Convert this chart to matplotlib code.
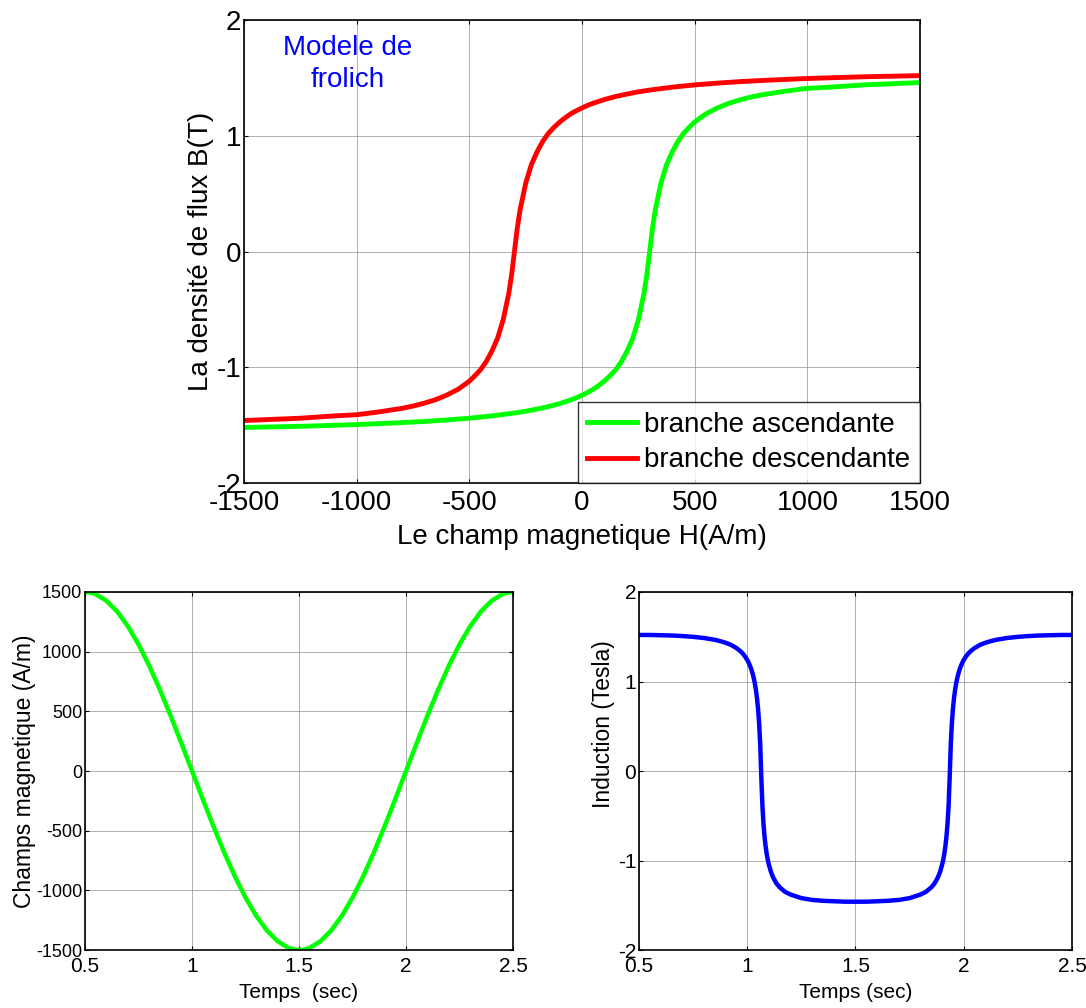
import matplotlib
matplotlib.use("Agg")
import matplotlib.pyplot as plt

# ---------------- données ----------------
# branche descendante (rouge) : H (A/m), B (T)
H_DESC = [-1500, -1375, -1250, -1100, -1000, -900, -800, -750, -700, -650,
          -600, -550, -500, -475, -450, -425, -400, -375, -350, -325,
          -312.5, -300, -287.5, -275, -250, -225, -200, -175, -150, -125,
          -100, -75, -50, -25, 0, 25, 50, 100, 150, 200,
          250, 300, 400, 500, 600, 700, 800, 900, 1000, 1250, 1500]
B_DESC = [-1.46, -1.45, -1.44, -1.42, -1.41, -1.385, -1.355, -1.335, -1.31, -1.28,
          -1.24, -1.19, -1.12, -1.072, -1.02, -0.95, -0.86, -0.75, -0.59, -0.36,
          -0.20, 0.00, 0.20, 0.36, 0.59, 0.75, 0.86, 0.95, 1.02, 1.072,
          1.117, 1.156, 1.19, 1.217, 1.241, 1.263, 1.282, 1.314, 1.340, 1.361,
          1.380, 1.395, 1.420, 1.440, 1.455, 1.468, 1.478, 1.487, 1.495, 1.51, 1.52]

# branche ascendante (verte)
H_ASC = [-1500, -1250, -1000, -900, -800, -700, -600, -500, -400, -300,
         -250, -200, -150, -100, -50, -25, 0, 25, 50, 75,
         100, 125, 150, 175, 200, 225, 250, 275, 287.5, 300,
         312.5, 325, 350, 375, 400, 425, 450, 475, 500, 550,
         600, 650, 700, 750, 800, 900, 1000, 1100, 1250, 1375, 1500]
B_ASC = [-1.52, -1.51, -1.495, -1.487, -1.478, -1.468, -1.455, -1.440, -1.420, -1.395,
         -1.380, -1.361, -1.340, -1.314, -1.282, -1.263, -1.241, -1.217, -1.19, -1.156,
         -1.117, -1.072, -1.02, -0.95, -0.86, -0.75, -0.59, -0.36, -0.20, 0.00,
         0.20, 0.36, 0.59, 0.75, 0.86, 0.95, 1.02, 1.072, 1.12, 1.19,
         1.24, 1.28, 1.31, 1.335, 1.355, 1.385, 1.41, 1.42, 1.44, 1.45, 1.46]

# champ magnetique en fonction du temps
T_H = [0.50, 0.525, 0.55, 0.60, 0.65, 0.70, 0.75, 0.80, 0.85, 0.90, 0.95,
       1.00, 1.05, 1.10, 1.15, 1.20, 1.25, 1.30, 1.35, 1.40, 1.45, 1.475,
       1.50, 1.525, 1.55, 1.60, 1.65, 1.70, 1.75, 1.80, 1.85, 1.90, 1.95,
       2.00, 2.05, 2.10, 2.15, 2.20, 2.25, 2.30, 2.35, 2.40, 2.45, 2.475, 2.50]
H_T = [1500, 1495.4, 1481.5, 1426.6, 1336.5, 1213.5, 1060.7, 881.7, 681.0, 463.5, 234.6,
       0, -234.6, -463.5, -681.0, -881.7, -1060.7, -1213.5, -1336.5, -1426.6, -1481.5, -1495.4,
       -1500, -1495.4, -1481.5, -1426.6, -1336.5, -1213.5, -1060.7, -881.7, -681.0, -463.5, -234.6,
       0, 234.6, 463.5, 681.0, 881.7, 1060.7, 1213.5, 1336.5, 1426.6, 1481.5, 1495.4, 1500]

# induction en fonction du temps
T_B = [0.50, 0.55, 0.60, 0.65, 0.70, 0.75, 0.80, 0.85, 0.875, 0.90,
       0.925, 0.95, 0.97, 0.98, 0.99, 1.00, 1.005, 1.01, 1.015, 1.02,
       1.025, 1.03, 1.035, 1.04, 1.045, 1.05, 1.055, 1.06, 1.065, 1.07,
       1.075, 1.08, 1.085, 1.09, 1.095, 1.10, 1.11, 1.12, 1.135, 1.15,
       1.175, 1.20, 1.25, 1.30, 1.35, 1.40, 1.45, 1.50,
       1.55, 1.60, 1.65, 1.70, 1.75, 1.80, 1.825, 1.85, 1.865, 1.88,
       1.89, 1.90, 1.905, 1.91, 1.915, 1.92, 1.925, 1.93, 1.935, 1.94,
       1.945, 1.95, 1.955, 1.96, 1.965, 1.97, 1.975, 1.98, 1.985, 1.99,
       1.995, 2.00, 2.01, 2.02, 2.03, 2.05, 2.075, 2.10, 2.125, 2.15,
       2.20, 2.25, 2.30, 2.35, 2.40, 2.45, 2.50]
B_T = [1.52, 1.52, 1.517, 1.514, 1.508, 1.499, 1.486, 1.466, 1.451, 1.433,
       1.409, 1.374, 1.335, 1.310, 1.279, 1.241, 1.218, 1.192, 1.162, 1.128,
       1.086, 1.038, 0.979, 0.906, 0.814, 0.693, 0.528, 0.290, -0.075, -0.386,
       -0.592, -0.737, -0.844, -0.928, -0.994, -1.048, -1.131, -1.191, -1.256, -1.30,
       -1.35, -1.38, -1.42, -1.44, -1.45, -1.455, -1.46, -1.46,
       -1.46, -1.455, -1.45, -1.44, -1.42, -1.38, -1.35, -1.30, -1.256, -1.191,
       -1.131, -1.048, -0.994, -0.928, -0.844, -0.737, -0.592, -0.386, -0.075, 0.290,
       0.528, 0.693, 0.814, 0.906, 0.979, 1.038, 1.086, 1.128, 1.162, 1.192,
       1.218, 1.241, 1.279, 1.310, 1.335, 1.374, 1.409, 1.433, 1.451, 1.466,
       1.486, 1.499, 1.508, 1.514, 1.517, 1.52, 1.52]

H_TICKS = [-1500, -1000, -500, 0, 500, 1000, 1500]
B_TICKS = [-2, -1, 0, 1, 2]
T_TICKS = [0.5, 1, 1.5, 2, 2.5]
T_LABELS = ["0.5", "1", "1.5", "2", "2.5"]

FONT = ["Liberation Sans", "DejaVu Sans"]
plt.rcParams["font.family"] = FONT
plt.rcParams["axes.unicode_minus"] = False


def style_matlab(ax, fsx, fsy, padx=2):
    ax.grid(True, color="#8c8c8c", lw=0.6, alpha=0.8)
    ax.set_axisbelow(True)
    ax.tick_params(direction="in", top=True, right=True, length=3,
                   width=0.8, pad=2)
    ax.tick_params(axis="x", labelsize=fsx, pad=padx)
    ax.tick_params(axis="y", labelsize=fsy)
    for s in ax.spines.values():
        s.set_linewidth(1.2)
        s.set_color("black")


fig = plt.figure(figsize=(10.86, 10.08), dpi=100)
fig.patch.set_facecolor("white")

# ---- cycle d'hysteresis ----
ax1 = fig.add_axes([0.2247, 0.5208, 0.6225, 0.4593])
ax1.plot(H_ASC, B_ASC, color="#00ff00", lw=3.5, label="branche ascendante")
ax1.plot(H_DESC, B_DESC, color="#ff0000", lw=3.5, label="branche descendante")
ax1.set_xlim(-1500, 1500)
ax1.set_ylim(-2, 2)
ax1.set_xticks(H_TICKS)
ax1.set_yticks(B_TICKS)
style_matlab(ax1, 20, 20, padx=5)
ax1.set_xlabel("Le champ magnetique H(A/m)", fontsize=20, labelpad=6)
ax1.set_ylabel("La densité de flux B(T)", fontsize=20, labelpad=2)
ax1.text(-1040, 1.62, "Modele de\nfrolich", color="blue", fontsize=20,
         ha="center", va="center", linespacing=1.3)
leg = ax1.legend(loc="lower right", fontsize=20, borderaxespad=0,
                 frameon=True, fancybox=False, handlelength=1.8,
                 handletextpad=0.25, borderpad=0.35, labelspacing=0.35)
leg.get_frame().set_edgecolor("black")
leg.get_frame().set_linewidth(1.0)

# ---- H(t) ----
ax2 = fig.add_axes([0.0783, 0.0575, 0.3941, 0.3552])
ax2.plot(T_H, H_T, color="#00ff00", lw=3.2)
ax2.set_xlim(0.5, 2.5)
ax2.set_ylim(-1500, 1500)
ax2.set_xticks(T_TICKS)
ax2.set_xticklabels(T_LABELS)
ax2.set_yticks([-1500, -1000, -500, 0, 500, 1000, 1500])
style_matlab(ax2, 15, 13, padx=5)
ax2.set_xlabel("Temps  (sec)", fontsize=15, labelpad=5)
ax2.set_ylabel("Champs magnetique (A/m)", fontsize=16.5, labelpad=0)

# ---- B(t) ----
ax3 = fig.add_axes([0.5884, 0.0575, 0.3987, 0.3552])
ax3.plot(T_B, B_T, color="#0000ff", lw=3.2)
ax3.set_xlim(0.5, 2.5)
ax3.set_ylim(-2, 2)
ax3.set_xticks(T_TICKS)
ax3.set_xticklabels(T_LABELS)
ax3.set_yticks(B_TICKS)
style_matlab(ax3, 15, 15, padx=5)
ax3.set_xlabel("Temps (sec)", fontsize=15, labelpad=5)
ax3.set_ylabel("Induction (Tesla)", fontsize=16.5)
ax3.yaxis.set_label_coords(-0.055, 0.63)

fig.savefig("out.png", dpi=100, facecolor="white")
